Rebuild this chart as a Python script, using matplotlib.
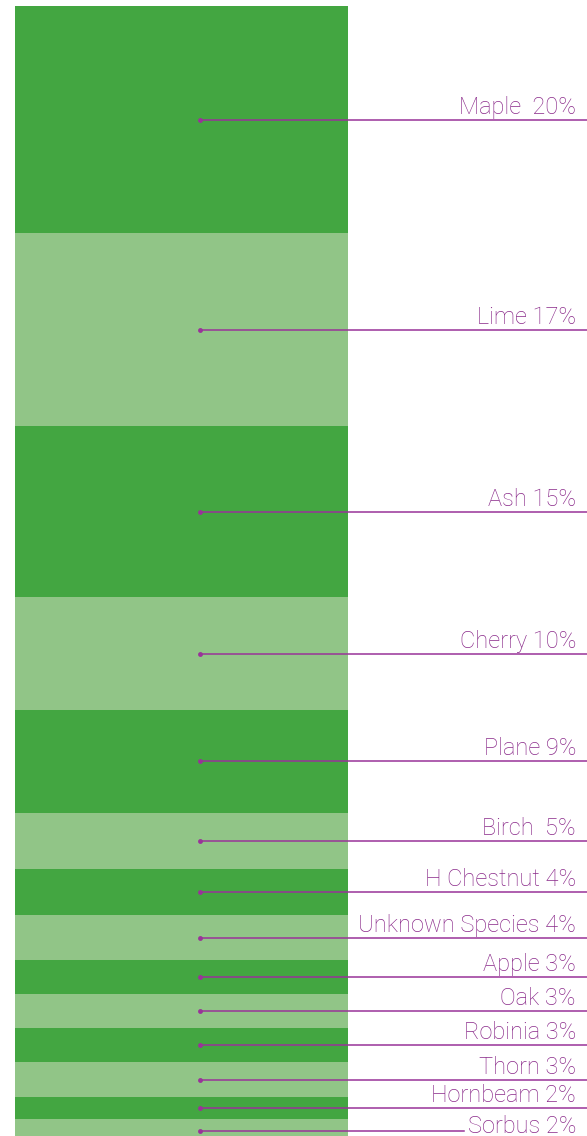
import matplotlib
matplotlib.use("Agg")
import matplotlib.pyplot as plt
import numpy as np

species = ["Maple", "Lime", "Ash", "Cherry", "Plane", "Birch", "H Chestnut",
           "Unknown Species", "Apple", "Oak", "Robinia", "Thorn", "Hornbeam", "Sorbus"]
percent = [20, 17, 15, 10, 9, 5, 4, 4, 3, 3, 3, 3, 2, 2]
labels = ["Maple  20%", "Lime 17%", "Ash 15%", "Cherry 10%", "Plane 9%", "Birch  5%",
          "H Chestnut 4%", "Unknown Species 4%", "Apple 3%", "Oak 3%", "Robinia 3%",
          "Thorn 3%", "Hornbeam 2%", "Sorbus 2%"]

dark = "#43a641"
light = "#91c587"
purple = "#993399"
text_purple = "#8a2a8a"

W, H = 587, 1136
fig = plt.figure(figsize=(W / 100, H / 100), dpi=100)
ax = fig.add_axes([0, 0, 1, 1])
ax.set_xlim(0, W)
scale = 11.36
ax.set_ylim((H - 6) / scale, -6 / scale)
ax.axis("off")

bottoms = np.concatenate([[0], np.cumsum(percent)[:-1]])
colors = [dark if i % 2 == 0 else light for i in range(len(percent))]
ax.bar(181.5, percent, bottom=bottoms, width=333, color=colors, linewidth=0, align="center")

fig.canvas.draw()
renderer = fig.canvas.get_renderer()
font = dict(family=["Roboto", "DejaVu Sans"], fontweight="light", fontsize=17, color=text_purple)
mids = bottoms + np.array(percent) / 2
n = len(labels)
for i, (lab, m) in enumerate(zip(labels, mids)):
    if i == n - 1:
        t = ax.annotate(lab, xy=(576, m), xytext=(0, -2), textcoords="offset pixels",
                        ha="right", va="baseline", **font)
        bb = t.get_window_extent(renderer)
        x_end = ax.transData.inverted().transform((bb.x0 - 4, 0))[0]
        ax.plot([200, x_end], [m, m], color=purple, lw=1.1)
    else:
        ax.annotate(lab, xy=(576, m), xytext=(0, 6), textcoords="offset pixels",
                    ha="right", va="baseline", **font)
        ax.plot([200, W], [m, m], color=purple, lw=1.1)
    ax.plot(200, m, "o", color=purple, ms=3.5, mew=0)

fig.savefig("out.png", dpi=100)
